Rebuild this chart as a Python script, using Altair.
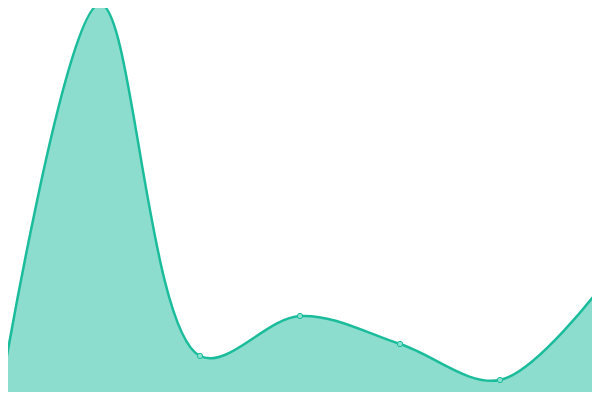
import altair as alt
import pandas as pd

xs = [0, 1, 2, 3, 4, 5, 6]
values = [1, 99, 11, 21, 14, 5, 28]

df = pd.DataFrame({"x": xs, "v": values})

xscale = alt.Scale(domain=[0.08, 5.92], nice=False, zero=False)
yscale = alt.Scale(domain=[2, 98], nice=False, zero=False)

base = alt.Chart(df)
enc = dict(
    x=alt.X("x:Q", scale=xscale, axis=None),
    y=alt.Y("v:Q", scale=yscale, axis=None),
)

area = base.mark_area(interpolate="catmull-rom", color="#1abc9c", opacity=0.5, clip=True).encode(
    **enc, y2=alt.datum(0)
)
line = base.mark_line(interpolate="catmull-rom", color="#1abc9c", strokeWidth=2.5, clip=True).encode(**enc)
points = base.mark_point(filled=True, fill="#8be0cf", stroke="#1abc9c", strokeWidth=1,
                         size=28, opacity=1, clip=True).encode(**enc)

chart = (area + line + points).properties(
    width=584, height=384, padding=0,
    autosize=alt.AutoSizeParams(type="none"),
).configure_view(stroke=None)

chart.save("out.html", embed_options={"renderer": "svg", "actions": False})
